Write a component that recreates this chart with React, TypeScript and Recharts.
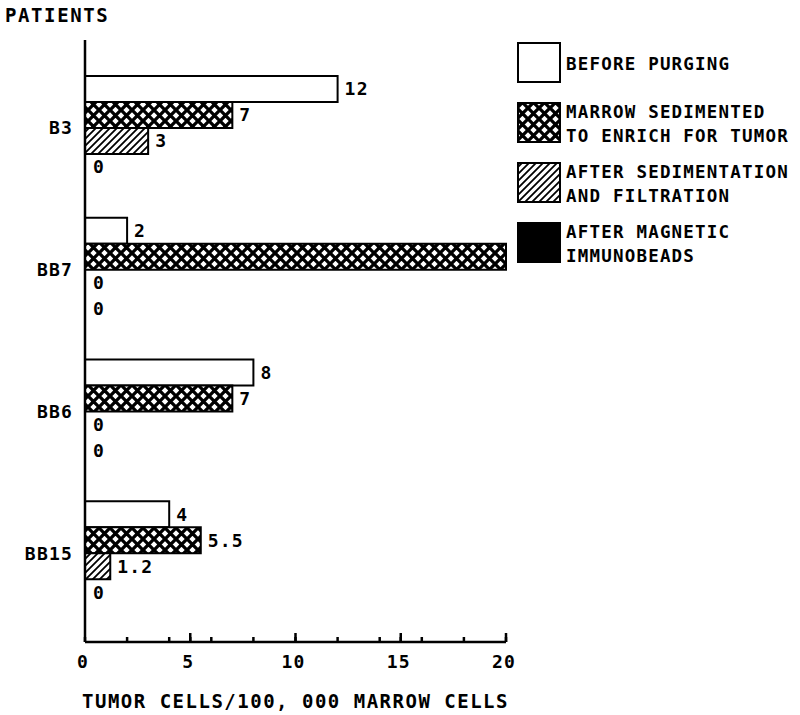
import React from 'react';
import { BarChart, Bar, XAxis, YAxis, LabelList, Rectangle } from 'recharts';

const patients = ['B3', 'BB7', 'BB6', 'BB15'];
const beforePurging = [12, 2, 8, 4];
const sedimented = [7, 20, 7, 5.5];
const filtered = [3, 0, 0, 1.2];
const magnetic = [0, 0, 0, 0];
const beforeLabels = ['12', '2', '8', '4'];
const sedimentedLabels = ['7', '', '7', '5.5'];
const filteredLabels = ['3', '0', '0', '1.2'];
const magneticLabels = ['0', '0', '0', '0'];
const xTicks = [0, 2, 4, 5, 6, 8, 10, 12, 14, 15, 16, 18, 20];
const majorTicks = [0, 5, 10, 15, 20];

const seriesNames = [
  ['BEFORE PURGING'],
  ['MARROW SEDIMENTED', 'TO ENRICH FOR TUMOR'],
  ['AFTER SEDIMENTATION', 'AND FILTRATION'],
  ['AFTER MAGNETIC', 'IMMUNOBEADS'],
];

const data = patients.map((p, i) => ({
  patient: p,
  before: beforePurging[i],
  sed: sedimented[i],
  filt: filtered[i],
  mag: magnetic[i],
  beforeL: beforeLabels[i],
  sedL: sedimentedLabels[i],
  filtL: filteredLabels[i],
  magL: magneticLabels[i],
}));

const FONT = '"DejaVu Sans Mono", monospace';
const textStyle: React.CSSProperties = {
  fontFamily: FONT,
  fontWeight: 'bold',
  fontSize: 18,
  letterSpacing: 1.2,
  fill: '#000',
};

const Patterns = ({ prefix }: { prefix: string }) => (
  <defs>
    <pattern id={prefix + 'cross'} width="11" height="11" patternUnits="userSpaceOnUse">
      <rect x="0" y="0" width="11" height="11" fill="#fff" />
      <path d="M-1,-1 L12,12 M12,-1 L-1,12" stroke="#000" strokeWidth="3.3" />
    </pattern>
    <pattern id={prefix + 'hatch'} width="7" height="7" patternUnits="userSpaceOnUse">
      <rect x="0" y="0" width="7" height="7" fill="#fff" />
      <path d="M-1,8 L8,-1 M-1,1 L1,-1 M6,8 L8,6" stroke="#000" strokeWidth="1.8" />
    </pattern>
  </defs>
);

const XTick = (props: any) => {
  const { x, y, payload } = props;
  const v = payload.value;
  if (!majorTicks.includes(v)) return <g />;
  return (
    <g>
      {v !== 0 && (
        <path d={`M${x},${y} L${x},${y - 9}`} stroke="#000" strokeWidth={2.5} fill="none" />
      )}
      <text x={x - 2} y={y + 26} textAnchor="middle" style={textStyle}>
        {v}
      </text>
    </g>
  );
};

const fills = ['#fff', 'url(#lgcross)', 'url(#lghatch)', '#000'];

const LegendBox = () => (
  <svg width={290} height={240} style={{ display: 'block' }}>
    <Patterns prefix="lg" />
    {seriesNames.map((lines, i) => {
      const top = 1 + i * 60;
      return (
        <g key={i}>
          <rect x={1} y={top} width={42} height={39} fill={fills[i]} stroke="#000" strokeWidth={2} />
          {lines.map((t, j) => {
            const n = lines.length;
            const cy = top + 21 + (j - (n - 1) / 2) * 24;
            return (
              <text key={j} x={49} y={cy} dominantBaseline="central" style={{ ...textStyle, fontSize: 17.5 }}>
                {t}
              </text>
            );
          })}
        </g>
      );
    })}
  </svg>
);

const labelProps = {
  position: 'right' as const,
  offset: 7,
  style: { ...textStyle, fontSize: 18 },
};

const BarShape = (props: any) => {
  if (!props.width || Math.abs(props.width) < 1.5) return <g />;
  return <Rectangle {...props} />;
};

export default function App() {
  return (
    <div style={{ position: 'absolute', left: 0, top: 0, width: 800, height: 715, background: '#fff' }}>
      <div
        style={{
          position: 'absolute',
          left: 5,
          top: 4,
          fontFamily: FONT,
          fontWeight: 'bold',
          fontSize: 19,
          letterSpacing: 1.6,
          color: '#000',
        }}
      >
        PATIENTS
      </div>
      <div
        style={{
          position: 'absolute',
          left: 82,
          top: 690,
          fontFamily: FONT,
          fontWeight: 'bold',
          fontSize: 19,
          letterSpacing: 1.5,
          color: '#000',
          whiteSpace: 'nowrap',
        }}
      >
        TUMOR CELLS/100, 000 MARROW CELLS
      </div>
      <div style={{ position: 'absolute', left: 517, top: 42 }}>
        <LegendBox />
      </div>
      <div style={{ position: 'absolute', left: 0, top: 0 }}>
        <BarChart
          width={800}
          height={715}
          data={data}
          layout="vertical"
          margin={{ top: 40, right: 294, left: 0, bottom: 43 }}
          barGap={0}
          barSize={26}
        >
          <Patterns prefix="ch" />
          <XAxis
            type="number"
            domain={[0, 20]}
            ticks={xTicks}
            interval={0}
            tick={<XTick />}
            tickLine={{ stroke: '#000', strokeWidth: 2.5 }}
            tickSize={-5}
            tickMargin={5}
            axisLine={{ stroke: '#000', strokeWidth: 2.5 }}
            height={30}
          />
          <YAxis
            type="category"
            dataKey="patient"
            width={85}
            tickLine={false}
            tickSize={0}
            tickMargin={12}
            axisLine={{ stroke: '#000', strokeWidth: 2.5 }}
            tick={{ ...textStyle, fontSize: 18 } as any}
            padding={{ top: 17, bottom: 18 }}
          />
          <Bar dataKey="before" name="BEFORE PURGING" fill="#fff" stroke="#000" strokeWidth={2} isAnimationActive={false}>
            <LabelList dataKey="beforeL" {...labelProps} />
          </Bar>
          <Bar dataKey="sed" name="MARROW SEDIMENTED TO ENRICH FOR TUMOR" fill="url(#chcross)" stroke="#000" strokeWidth={2} isAnimationActive={false}>
            <LabelList dataKey="sedL" {...labelProps} />
          </Bar>
          <Bar dataKey="filt" name="AFTER SEDIMENTATION AND FILTRATION" fill="url(#chhatch)" stroke="#000" strokeWidth={2} minPointSize={1} shape={BarShape} isAnimationActive={false}>
            <LabelList dataKey="filtL" {...labelProps} />
          </Bar>
          <Bar dataKey="mag" name="AFTER MAGNETIC IMMUNOBEADS" fill="#000" stroke="#000" strokeWidth={2} minPointSize={1} shape={BarShape} isAnimationActive={false}>
            <LabelList dataKey="magL" {...labelProps} />
          </Bar>
        </BarChart>
      </div>
    </div>
  );
}
